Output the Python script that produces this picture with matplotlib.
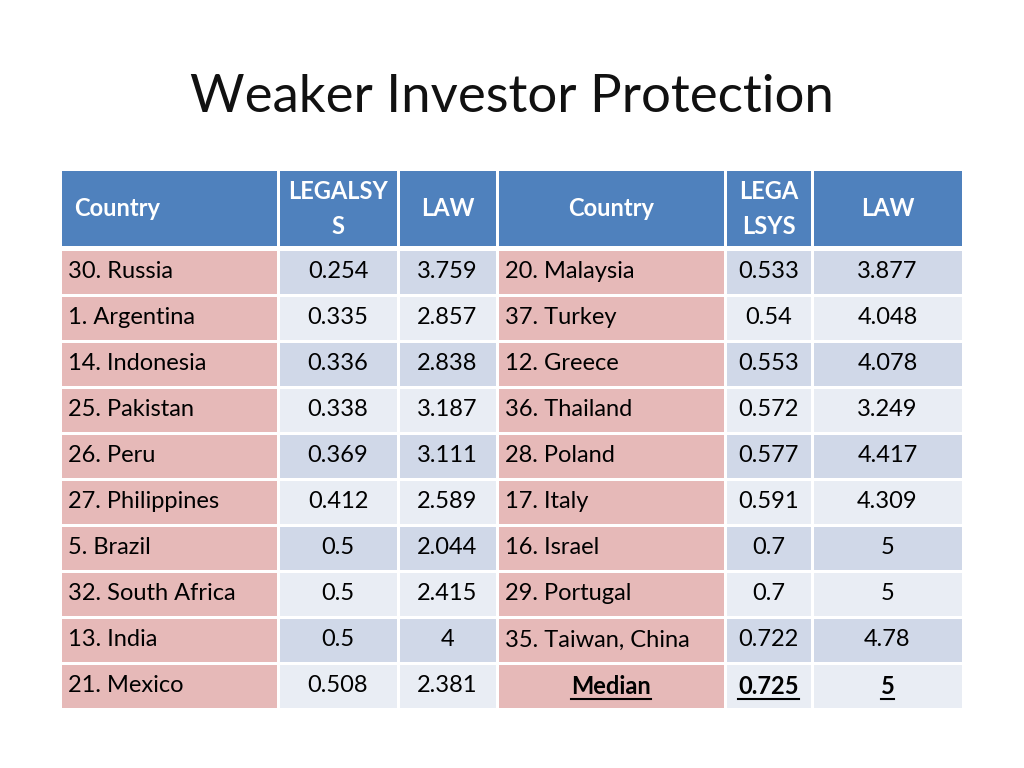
import matplotlib
matplotlib.use("Agg")
import matplotlib.pyplot as plt
from matplotlib.patches import Rectangle

title = "Weaker Investor Protection"
headers = ["Country", "LEGALSY\nS", "LAW", "Country", "LEGA\nLSYS", "LAW"]
left_countries = ["30. Russia", "1. Argentina", "14. Indonesia", "25. Pakistan", "26. Peru",
                  "27. Philippines", "5. Brazil", "32. South Africa", "13. India", "21. Mexico"]
left_legal = ["0.254", "0.335", "0.336", "0.338", "0.369", "0.412", "0.5", "0.5", "0.5", "0.508"]
left_law = ["3.759", "2.857", "2.838", "3.187", "3.111", "2.589", "2.044", "2.415", "4", "2.381"]
right_countries = ["20. Malaysia", "37. Turkey", "12. Greece", "36. Thailand", "28. Poland",
                   "17. Italy", "16. Israel", "29. Portugal", "35. Taiwan, China", "Median"]
right_legal = ["0.533", "0.54", "0.553", "0.572", "0.577", "0.591", "0.7", "0.7", "0.722", "0.725"]
right_law = ["3.877", "4.048", "4.078", "3.249", "4.417", "4.309", "5", "5", "4.78", "5"]

fig = plt.figure(figsize=(10.24, 7.68), dpi=100)
ax = fig.add_axes([0, 0, 1, 1])
ax.set_xlim(0, 1024); ax.set_ylim(768, 0); ax.axis("off")
font = "Lato"
ax.text(512, 98, title, ha="center", va="center", fontsize=38, family=font, color="#111111")

cols = [60, 278, 398, 497, 725, 812, 963]
hy0, hy1 = 171, 247
row_h = 46
gap = 1.5
blue, pink, dark, light = "#4F81BD", "#E6B9B8", "#D0D8E8", "#E9EDF4"

for j, h in enumerate(headers):
    x0, x1 = cols[j], cols[j + 1]
    ax.add_patch(Rectangle((x0 + gap, hy0), x1 - x0 - 2 * gap, hy1 - hy0 - gap, color=blue, lw=0))
    if h == "Country" and j == 0:
        ax.text(x0 + 14, (hy0 + hy1) / 2, h, ha="left", va="center", fontsize=17,
                family=font, color="white", weight="bold")
    else:
        ax.text((x0 + x1) / 2, (hy0 + hy1) / 2, h, ha="center", va="center", fontsize=17,
                family=font, color="white", weight="bold", linespacing=1.6)

columns = [left_countries, left_legal, left_law, right_countries, right_legal, right_law]
for i in range(len(left_countries)):
    y0 = hy1 + 2 + i * row_h
    yc = y0 + row_h / 2
    shade = dark if i % 2 == 0 else light
    for j, col in enumerate(columns):
        x0, x1 = cols[j], cols[j + 1]
        fc = pink if j in (0, 3) else shade
        ax.add_patch(Rectangle((x0 + gap, y0 + gap), x1 - x0 - 2 * gap, row_h - 2 * gap, color=fc, lw=0))
        txt = col[i]
        median = right_countries[i] == "Median" and j >= 3
        if j in (0, 3) and not median:
            ax.text(x0 + 8, yc, txt, ha="left", va="center", fontsize=17, family=font, color="black")
        else:
            t = ax.text((x0 + x1) / 2, yc, txt, ha="center", va="center", fontsize=17, family=font,
                        color="black", weight="bold" if median else "normal")
            if median:
                fig.canvas.draw()
                bb = t.get_window_extent().transformed(ax.transData.inverted())
                ax.plot([bb.x0, bb.x1], [yc + 13, yc + 13], color="black", lw=1.5)

fig.savefig("out.png", dpi=100)
